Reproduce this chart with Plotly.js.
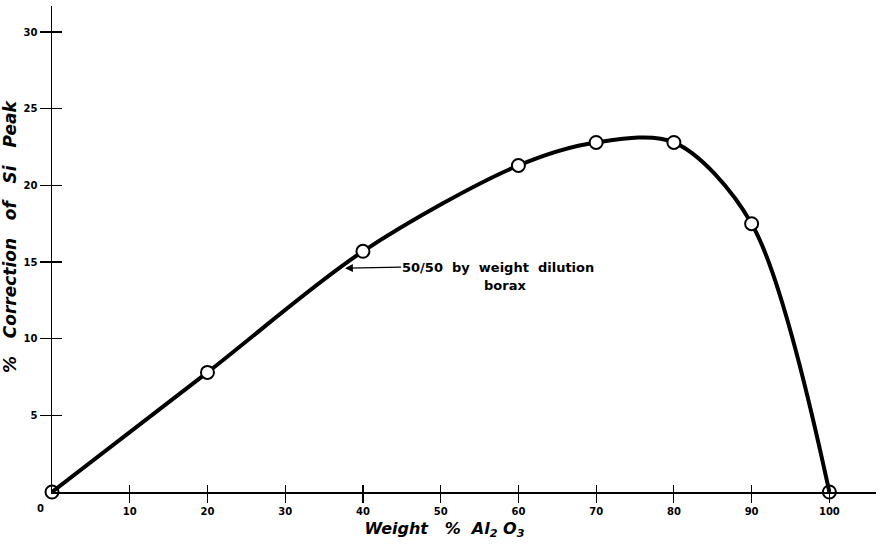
<!DOCTYPE html>
<html>
<head>
<meta charset="utf-8">
<script src="https://cdn.plot.ly/plotly-3.0.1.min.js"></script>
<style>html,body{margin:0;padding:0;background:#fff;}#chart{width:881px;height:550px;}</style>
</head>
<body>
<div id="chart"></div>
<script>
// Data
const weightAl2O3 = [0, 20, 40, 60, 70, 80, 90, 100];
const correctionSi = [0, 7.8, 15.7, 21.3, 22.8, 22.8, 17.5, 0];
const xTickVals = [10, 20, 30, 40, 50, 60, 70, 80, 90, 100];
const yTickVals = [5, 10, 15, 20, 25, 30];
const annotationLine1 = "50/50&nbsp; by&nbsp; weight&nbsp; dilution";
const annotationLine2 = "borax";

const innerX = weightAl2O3.slice(1, -1), innerY = correctionSi.slice(1, -1);
const endX = [weightAl2O3[0], weightAl2O3[weightAl2O3.length - 1]];
const endY = [correctionSi[0], correctionSi[correctionSi.length - 1]];

const tickFont = {family: "DejaVu Sans", size: 10, color: "#000", weight: "bold"};
const titleFont = {family: "DejaVu Sans", size: 16, color: "#000", weight: "bold", style: "italic"};
const yTitleFont = {family: "DejaVu Sans", size: 17, color: "#000", weight: "bold", style: "italic"};
const sp = "&nbsp;";

const traces = [
  {x: weightAl2O3, y: correctionSi, mode: "lines", line: {shape: "spline", smoothing: 0.9, color: "#000", width: 4}, cliponaxis: false, hoverinfo: "skip"},
  {x: innerX, y: innerY, mode: "markers", marker: {symbol: "circle", size: 13, color: "#fff", line: {color: "#000", width: 2}}, cliponaxis: false},
  {x: endX, y: endY, mode: "markers", marker: {symbol: "circle-open", size: 13, color: "#000", line: {width: 2}}, cliponaxis: false},
  {x: [0], y: [0], xaxis: "x2", yaxis: "y2", mode: "markers", marker: {opacity: 0}, showlegend: false}
];

const layout = {
  width: 881, height: 550,
  margin: {l: 52, r: 5, t: 6, b: 58},
  paper_bgcolor: "#fff", plot_bgcolor: "#fff",
  showlegend: false,
  xaxis: {
    range: [0, 106], showgrid: false, zeroline: false,
    showline: true, linecolor: "#000", linewidth: 1.5,
    tickmode: "array", tickvals: xTickVals,
    ticks: "outside", ticklen: 9, tickwidth: 1.2, tickcolor: "#000",
    tickfont: tickFont,
    title: {text: "Weight" + sp.repeat(3) + "%" + sp + " Al<sub>2</sub> O<sub>3</sub>" + sp.repeat(7), font: titleFont, standoff: 7}
  },
  yaxis: {
    range: [0, 31.7], showgrid: false, zeroline: false,
    showline: true, linecolor: "#000", linewidth: 1.5,
    tickmode: "array", tickvals: yTickVals,
    ticks: "outside", ticklen: 11, tickwidth: 1.2, tickcolor: "#000",
    tickfont: tickFont,
    title: {text: sp.repeat(4) + "%" + sp.repeat(3) + "Correction" + sp.repeat(3) + "of" + sp.repeat(3) + "Si" + sp.repeat(3) + "Peak", font: yTitleFont, standoff: 6}
  },
  xaxis2: {
    overlaying: "x", anchor: "y", range: [0, 106], showgrid: false, zeroline: false,
    showline: false, tickmode: "array", tickvals: xTickVals, showticklabels: false,
    ticks: "inside", ticklen: 7, tickwidth: 1.2, tickcolor: "#000"
  },
  yaxis2: {
    overlaying: "y", anchor: "x", side: "left", range: [0, 31.7], showgrid: false, zeroline: false,
    showline: false, tickmode: "array", tickvals: yTickVals, showticklabels: false,
    ticks: "inside", ticklen: 10, tickwidth: 1.2, tickcolor: "#000"
  },
  annotations: [
    {x: 37.7, y: 14.6, xref: "x", yref: "y", text: annotationLine1, showarrow: true,
     arrowhead: 2, arrowsize: 1.2, arrowwidth: 1.3, arrowcolor: "#000",
     ax: 56, ay: -1, xanchor: "left", yanchor: "middle", borderpad: 0,
     font: {family: "DejaVu Sans", size: 13, color: "#000", weight: "bold"}},
    {x: 58.3, y: 13.45, xref: "x", yref: "y", text: annotationLine2, showarrow: false,
     xanchor: "center", yanchor: "middle", borderpad: 0,
     font: {family: "DejaVu Sans", size: 13, color: "#000", weight: "bold"}},
    {x: 0, y: 0, xref: "x", yref: "y", text: "0", showarrow: false,
     xshift: -12, yshift: -16, font: tickFont}
  ]
};

Plotly.newPlot("chart", traces, layout, {displayModeBar: false, staticPlot: true});
</script>
</body>
</html>
